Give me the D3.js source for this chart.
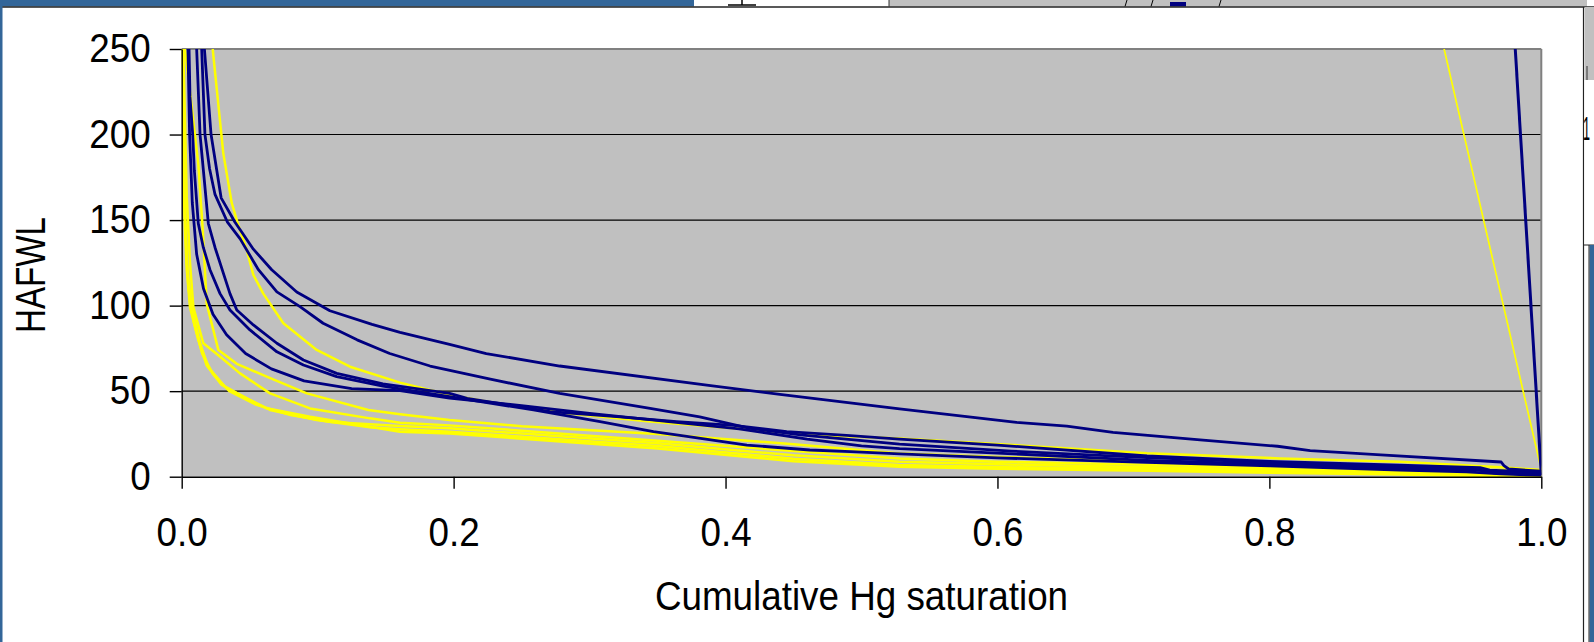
<!DOCTYPE html>
<html lang="en">
<head>
<meta charset="utf-8">
<title>HAFWL vs cumulative Hg saturation</title>
<script src="https://d3js.org/d3.v7.min.js"></script>
<style>
  body { margin: 0; background: #fff; }
  svg { display: block; }
  text { font-family: "Liberation Sans", Arial, sans-serif; fill: #000; }
  .navy { fill: none; stroke: #000080; stroke-width: 2.8px; stroke-linejoin: round; }
  .yellow { fill: none; stroke: #ffff00; stroke-width: 2.5px; stroke-linejoin: round; }
  .grid line { stroke: #000; stroke-width: 1.1px; }
  .axis path, .axis line { stroke: #000; stroke-width: 1.4px; }
</style>
</head>
<body>
<svg id="chart" width="1594" height="642"></svg>
<script>
// ticks
const xTicks = [0, 0.2, 0.4, 0.6, 0.8, 1.0];
const yTicks = [0, 50, 100, 150, 200, 250];

// [cumulative Hg saturation, HAFWL]
const navyA = [[0.0167,250],[0.0216,200],[0.029,163],[0.039,149],[0.0527,133],[0.0662,121],[0.0846,108],[0.109,97],[0.14,89],[0.1606,84.4],[0.197,77.4],[0.224,72],[0.278,64.7],[0.389,53.2],[0.44,48.1],[0.528,39.6],[0.614,31.8],[0.651,29.6],[0.685,25.9],[0.749,21.5],[0.806,17.8],[0.83,15.2],[0.882,12.7],[0.9705,8.6],[0.9725,6.5],[0.976,4.5],[1.0,3.2]];
const navyB = [[0.0147,250],[0.0171,200],[0.0205,180],[0.0245,165],[0.0335,149],[0.043,139],[0.0564,121],[0.07,108],[0.087,99.4],[0.104,89.7],[0.129,80],[0.153,72],[0.1827,64.7],[0.227,57],[0.278,48.7],[0.3445,40],[0.381,35],[0.418,28.3],[0.455,24.4],[0.528,19],[0.61,15],[0.71,11.1],[0.8,8.4],[0.896,5.8],[0.95,4.6],[0.958,3.2],[0.975,2.6],[1.0,1.5]];
const navyC = [[0.011,250],[0.0135,200],[0.0196,148],[0.0245,134],[0.0355,107],[0.0405,97.4],[0.0527,88.7],[0.07,78],[0.0895,68.2],[0.114,60.4],[0.148,54.2],[0.197,48.7],[0.21,45.8],[0.271,38],[0.32,35.1],[0.364,32.2],[0.406,30],[0.445,26.3],[0.489,24.2],[0.528,22],[0.6,18.5],[0.71,12.1],[0.8,9],[0.896,6.8],[0.955,5.3],[0.962,3.8],[0.98,3.2],[1.0,2]];
const navyD = [[0.0054,250],[0.0061,222],[0.0081,200],[0.0093,179],[0.0122,148],[0.0159,134],[0.0208,121],[0.0282,107],[0.0355,97.4],[0.0502,85.8],[0.07,73],[0.0895,65.3],[0.114,58.5],[0.148,53],[0.197,46.8],[0.2587,39],[0.3077,32.2],[0.347,26.3],[0.369,23.8],[0.4157,18.5],[0.462,15.6],[0.492,14.6],[0.528,13.3],[0.6,11],[0.71,8.4],[0.8,6.4],[0.896,3.9],[0.945,2.8],[0.97,1.6],[1.0,0.8]];
const navyE = [[0.0046,250],[0.0058,200],[0.0078,160],[0.011,130],[0.016,110],[0.023,95],[0.033,83],[0.047,72],[0.066,63],[0.09,56],[0.125,51.5],[0.1606,50.3],[0.197,46],[0.25,41.5],[0.3,37],[0.36,32],[0.41,28],[0.46,22],[0.5,18],[0.528,16.4],[0.6,13.8],[0.71,9.6],[0.8,7.4],[0.896,4.9],[0.955,3.8],[0.965,2.2],[1.0,1.2]];
const navyEdge = [[0.977,300],[1.0,1]];

const yellow1 = [[0.0228,250],[0.0306,189],[0.0368,160],[0.0409,149],[0.0478,132.5],[0.0527,118],[0.06,107],[0.0748,89.7],[0.0993,74.1],[0.1238,64.3],[0.1606,55],[0.1974,47.8],[0.2342,42.5],[0.2832,37.1],[0.3445,32.2],[0.4058,28.3],[0.4672,24.4],[0.528,22.4],[0.6118,18.5],[0.71,13.7],[0.808,10.7],[0.896,8.8],[0.97,5.5],[1.0,3.9]];
const yellow2 = [[0.0024,250],[0.0122,183],[0.0155,144],[0.0184,101],[0.027,74],[0.0405,66],[0.0625,58.5],[0.092,48.7],[0.1373,39],[0.1606,36.5],[0.197,33.1],[0.25,29.5],[0.35,25],[0.45,19],[0.528,13.5],[0.6,11.5],[0.71,9],[0.8,7.3],[0.896,5.3],[0.95,4.3],[1.0,3]];
const yellow3 = [[0.0012,250],[0.0037,164],[0.0061,125],[0.0086,99],[0.0159,78],[0.027,71],[0.0429,60.4],[0.065,48.7],[0.0944,39.9],[0.1385,34.1],[0.1606,31.6],[0.197,30],[0.35,21],[0.45,15],[0.528,10.7],[0.6,8.8],[0.71,7],[0.8,5.5],[0.896,4.3],[0.93,3],[0.96,1.5],[1.0,0.5]];
const yellow4 = [[0.0005,250],[0.0025,150],[0.005,110],[0.009,90],[0.015,72],[0.023,60],[0.035,50],[0.055,42],[0.08,36],[0.11,32],[0.1606,29.6],[0.197,28.3],[0.35,19.5],[0.45,12.5],[0.528,8.8],[0.6,7.3],[0.71,5.5],[0.8,4.3],[0.896,3.3],[0.94,1.5],[0.96,0.5],[1.0,0]];
const yellow5 = [[0.0008,250],[0.002,164],[0.0037,125],[0.0073,99],[0.0135,78],[0.0196,64],[0.0319,52.6],[0.0502,44.8],[0.065,39],[0.0993,33.1],[0.1385,28.9],[0.1606,27.7],[0.197,26.3],[0.35,18],[0.45,10.5],[0.528,6.8],[0.6,5.6],[0.71,4.5],[0.8,3.3],[0.896,2.3],[0.945,0.8],[1.0,0]];
const yellow6 = [[0.0005,250],[0.0012,183],[0.0024,144],[0.0037,121],[0.0061,99],[0.0122,80],[0.0184,65],[0.0294,53.6],[0.0453,46.8],[0.0625,40],[0.0944,35],[0.136,29.5],[0.1606,26.3],[0.197,25.3],[0.35,16.5],[0.45,9],[0.528,5.8],[0.6,4.6],[0.71,3.5],[0.8,2.3],[0.896,1.3],[0.95,0.3],[1.0,0]];
const yellowEdge = [[0.914,300],[1.0,4]];

const yellowSeries = [yellow1, yellow2, yellow3, yellow4, yellow5, yellow6, yellowEdge];
const navySeries = [navyA, navyB, navyC, navyD, navyE, navyEdge];

const svg = d3.select('#chart');
const plotLeft = 181.7, plotRight = 1541.3, plotTop = 49, plotBottom = 476.7;
const fontSize = 40;
const squeeze = 0.92;   // text in the picture is a bit narrow

let x = d3.scaleLinear().domain([0, 1]).range([plotLeft, plotRight]);
let y = d3.scaleLinear().domain([0, 250]).range([plotBottom, plotTop]);

// window bits around the chart
svg.append('rect').attr('width', 1594).attr('height', 642).attr('fill', '#fff');
svg.append('rect').attr('x', 0).attr('y', 0).attr('width', 694).attr('height', 6.5).attr('fill', '#336699');
svg.append('rect').attr('x', 889).attr('y', 0).attr('width', 698).attr('height', 6.5).attr('fill', '#c0c0c0');
svg.append('line').attr('x1', 889).attr('x2', 889).attr('y1', 0).attr('y2', 6.5).attr('stroke', '#333');
svg.append('line').attr('x1', 728).attr('x2', 756).attr('y1', 5).attr('y2', 5).attr('stroke', '#000').attr('stroke-width', 1.5);
svg.append('line').attr('x1', 742).attr('x2', 742).attr('y1', 0).attr('y2', 5).attr('stroke', '#000').attr('stroke-width', 1.5);
[1125, 1151, 1219].forEach(function(px) {
  svg.append('line').attr('x1', px).attr('x2', px + 2).attr('y1', 6.5).attr('y2', 0).attr('stroke', '#000');
});
svg.append('rect').attr('x', 1170).attr('y', 2).attr('width', 16).attr('height', 4.5).attr('fill', '#000080');
svg.append('line').attr('x1', 0).attr('x2', 1594).attr('y1', 7).attr('y2', 7).attr('stroke', '#222').attr('stroke-width', 1.5);
svg.append('rect').attr('x', 0).attr('y', 0).attr('width', 2.5).attr('height', 642).attr('fill', '#336699');
svg.append('line').attr('x1', 1583.5).attr('x2', 1583.5).attr('y1', 7).attr('y2', 642).attr('stroke', '#222').attr('stroke-width', 1.2);
svg.append('rect').attr('x', 1584.5).attr('y', 7).attr('width', 10).attr('height', 73).attr('fill', '#c0c0c0');
svg.append('rect').attr('x', 1584.5).attr('y', 80).attr('width', 10).attr('height', 165).attr('fill', '#fff');
svg.append('line').attr('x1', 1587).attr('x2', 1587).attr('y1', 66).attr('y2', 80).attr('stroke', '#333');
svg.append('text').attr('x', 1590).attr('y', 140).attr('text-anchor', 'end').attr('font-size', 34)
  .attr('textLength', 7).attr('lengthAdjust', 'spacingAndGlyphs').text('1');
svg.append('line').attr('x1', 1584).attr('x2', 1594).attr('y1', 245).attr('y2', 245).attr('stroke', '#222');
svg.append('rect').attr('x', 1589.5).attr('y', 245).attr('width', 5).attr('height', 397).attr('fill', '#336699');
svg.append('line').attr('x1', 1589).attr('x2', 1589).attr('y1', 245).attr('y2', 642).attr('stroke', '#222');

// plot area
svg.append('rect').attr('x', plotLeft).attr('y', plotTop)
  .attr('width', plotRight - plotLeft).attr('height', plotBottom - plotTop).attr('fill', '#c0c0c0');

svg.append('g').attr('class', 'grid')
  .selectAll('line')
  .data(yTicks.filter(function(d) { return d > 0 && d < 250; }))
  .join('line')
  .attr('x1', plotLeft).attr('x2', plotRight)
  .attr('y1', function(d) { return y(d); })
  .attr('y2', function(d) { return y(d); });

svg.append('line').attr('x1', plotLeft).attr('x2', plotRight).attr('y1', plotTop).attr('y2', plotTop)
  .attr('stroke', '#808080').attr('stroke-width', 2);
svg.append('line').attr('x1', plotRight).attr('x2', plotRight).attr('y1', plotTop).attr('y2', plotBottom)
  .attr('stroke', '#808080').attr('stroke-width', 2);

svg.append('clipPath').attr('id', 'plotclip')
  .append('rect').attr('x', plotLeft).attr('y', plotTop)
  .attr('width', plotRight - plotLeft).attr('height', plotBottom - plotTop);

let line = d3.line()
  .x(function(d) { return x(d[0]); })
  .y(function(d) { return y(d[1]); });

let curves = svg.append('g').attr('clip-path', 'url(#plotclip)');
curves.selectAll('path.yellow')
  .data(yellowSeries)
  .join('path')
  .attr('class', 'yellow')
  .style('stroke-width', function(d) { return d === yellowEdge ? '1.7px' : null; })
  .attr('d', line);
curves.selectAll('path.navy')
  .data(navySeries)
  .join('path')
  .attr('class', 'navy')
  .style('stroke-width', function(d) { return d === navyEdge ? '3px' : null; })
  .attr('d', line);

// axes
let xAxis = svg.append('g').attr('class', 'axis')
  .attr('transform', 'translate(0,' + plotBottom + ')')
  .call(d3.axisBottom(x).tickValues(xTicks).tickFormat(d3.format('.1f'))
    .tickSize(12).tickSizeOuter(0).tickPadding(29))
  .attr('font-size', fontSize).attr('font-family', null);

let yAxis = svg.append('g').attr('class', 'axis')
  .attr('transform', 'translate(' + plotLeft + ',0)')
  .call(d3.axisLeft(y).tickValues(yTicks).tickSize(12).tickSizeOuter(0).tickPadding(19))
  .attr('font-size', fontSize).attr('font-family', null);

let xTitle = svg.append('text')
  .attr('x', (plotLeft + plotRight) / 2).attr('y', 610)
  .attr('text-anchor', 'middle').attr('font-size', fontSize)
  .text('Cumulative Hg saturation');

let yTitle = svg.append('text')
  .attr('transform', 'translate(45,275) rotate(-90)')
  .attr('text-anchor', 'middle').attr('font-size', 42)
  .text('HAFWL');

// narrow the glyphs like the original
function narrow(sel) {
  sel.each(function() {
    let len = this.getComputedTextLength();
    d3.select(this)
      .attr('textLength', len * squeeze)
      .attr('lengthAdjust', 'spacingAndGlyphs');
  });
}
narrow(xAxis.selectAll('text'));
narrow(yAxis.selectAll('text'));
narrow(xTitle);
yTitle.attr('textLength', 116).attr('lengthAdjust', 'spacingAndGlyphs');
</script>
</body>
</html>
